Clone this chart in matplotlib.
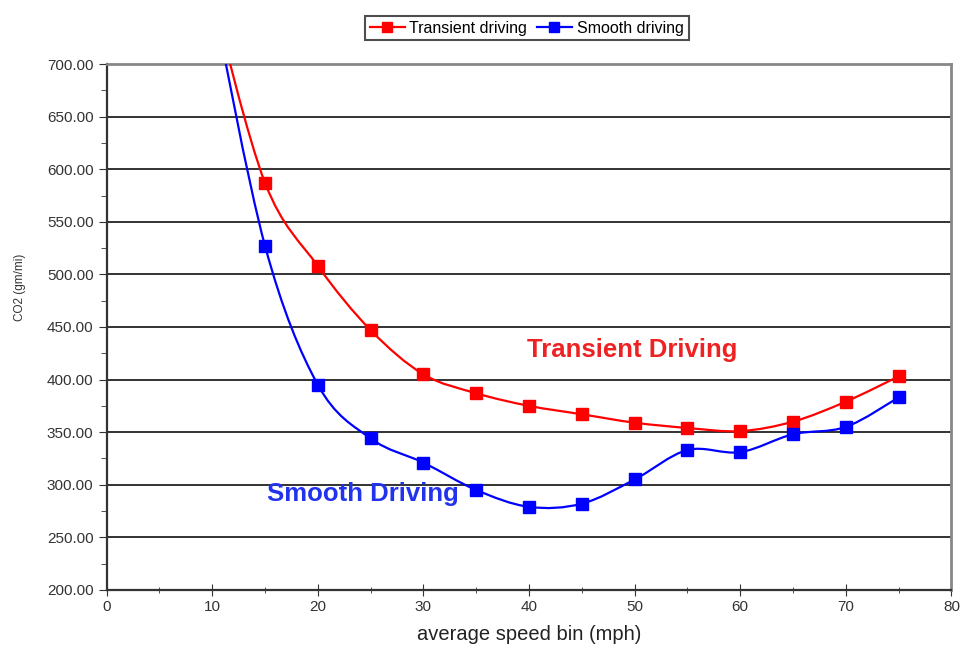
import matplotlib.pyplot as plt
from matplotlib.lines import Line2D
from matplotlib.patches import PathPatch
from matplotlib.path import Path
from matplotlib.ticker import MultipleLocator, FormatStrFormatter

plt.rcParams["font.family"] = ["Liberation Sans", "DejaVu Sans"]

speed = [10, 15, 20, 25, 30, 35, 40, 45, 50, 55, 60, 65, 70, 75]
transient = [765, 587, 508, 447, 405, 387, 375, 367, 359, 354, 351, 360, 379, 403]
smooth = [765, 527, 395, 344, 321, 295, 279, 282, 305, 333, 331, 348, 355, 383]

RED = "#ff0000"
BLUE = "#0000ff"


def smooth_path(xs, ys):
    # Excel-style smoothed line: Catmull-Rom segments as cubic Beziers
    pts = list(zip(xs, ys))
    verts = [pts[0]]
    codes = [Path.MOVETO]
    for i in range(len(pts) - 1):
        p0 = pts[i - 1] if i > 0 else pts[i]
        p1 = pts[i]
        p2 = pts[i + 1]
        p3 = pts[i + 2] if i + 2 < len(pts) else pts[i + 1]
        c1 = (p1[0] + (p2[0] - p0[0]) / 6, p1[1] + (p2[1] - p0[1]) / 6)
        c2 = (p2[0] - (p3[0] - p1[0]) / 6, p2[1] - (p3[1] - p1[1]) / 6)
        verts += [c1, c2, p2]
        codes += [Path.CURVE4] * 3
    return Path(verts, codes)


def create_chart() -> None:
    fig = plt.figure(figsize=(9.61, 6.54), dpi=100)
    ax = fig.add_axes([0.111, 0.098, 0.879, 0.804])

    for ys, color in [(transient, RED), (smooth, BLUE)]:
        ax.add_patch(PathPatch(smooth_path(speed, ys), facecolor="none",
                               edgecolor=color, linewidth=1.6, zorder=3))
        ax.plot(speed, ys, linestyle="none", marker="s", markersize=9,
                color=color, zorder=4)

    ax.set_xlim(0, 80)
    ax.set_ylim(200, 700)
    ax.xaxis.set_major_locator(MultipleLocator(10))
    ax.xaxis.set_minor_locator(MultipleLocator(5))
    ax.yaxis.set_major_locator(MultipleLocator(50))
    ax.yaxis.set_minor_locator(MultipleLocator(25))
    ax.yaxis.set_major_formatter(FormatStrFormatter("%.2f"))
    ax.grid(axis="y", which="major", color="#222222", linewidth=1.3)
    ax.set_axisbelow(True)

    ax.tick_params(axis="both", which="both", labelsize=11, colors="#333333")
    ax.tick_params(axis="x", which="major", length=8, direction="inout")
    ax.tick_params(axis="x", which="minor", length=5, direction="inout")
    ax.tick_params(axis="y", which="major", length=6, direction="out")
    ax.tick_params(axis="y", which="minor", length=4, direction="out")

    for side in ["left", "bottom"]:
        ax.spines[side].set_linewidth(1.6)
        ax.spines[side].set_color("#333333")
    for side in ["top", "right"]:
        ax.spines[side].set_linewidth(2)
        ax.spines[side].set_color("#888888")

    ax.set_xlabel("average speed bin (mph)", fontsize=14.5, color="#222222",
                  labelpad=8)
    ax.set_ylabel("CO2 (gm/mi)", fontsize=8.5, color="#333333")
    ax.yaxis.set_label_coords(-0.095, 0.575)

    ax.text(49.8, 428, "Transient Driving", color="#ee2222", fontsize=18.5,
            fontweight="bold", ha="center", va="center")
    ax.text(24.3, 291, "Smooth Driving", color="#2233ee", fontsize=18.5,
            fontweight="bold", ha="center", va="center")

    handles = [
        Line2D([], [], color=RED, marker="s", markersize=7, linewidth=1.6),
        Line2D([], [], color=BLUE, marker="s", markersize=7, linewidth=1.6),
    ]
    leg = fig.legend(handles, ["Transient driving", "Smooth driving"],
                     loc="center", bbox_to_anchor=(0.548, 0.957), ncol=2,
                     fontsize=11.5, frameon=True, fancybox=False,
                     handlelength=2.2, handletextpad=0.3, columnspacing=0.6,
                     borderpad=0.3)
    leg.get_frame().set_edgecolor("#222222")
    leg.get_frame().set_linewidth(1.5)

    fig.savefig("out.png", dpi=100)
    plt.close(fig)


if __name__ == "__main__":
    create_chart()
